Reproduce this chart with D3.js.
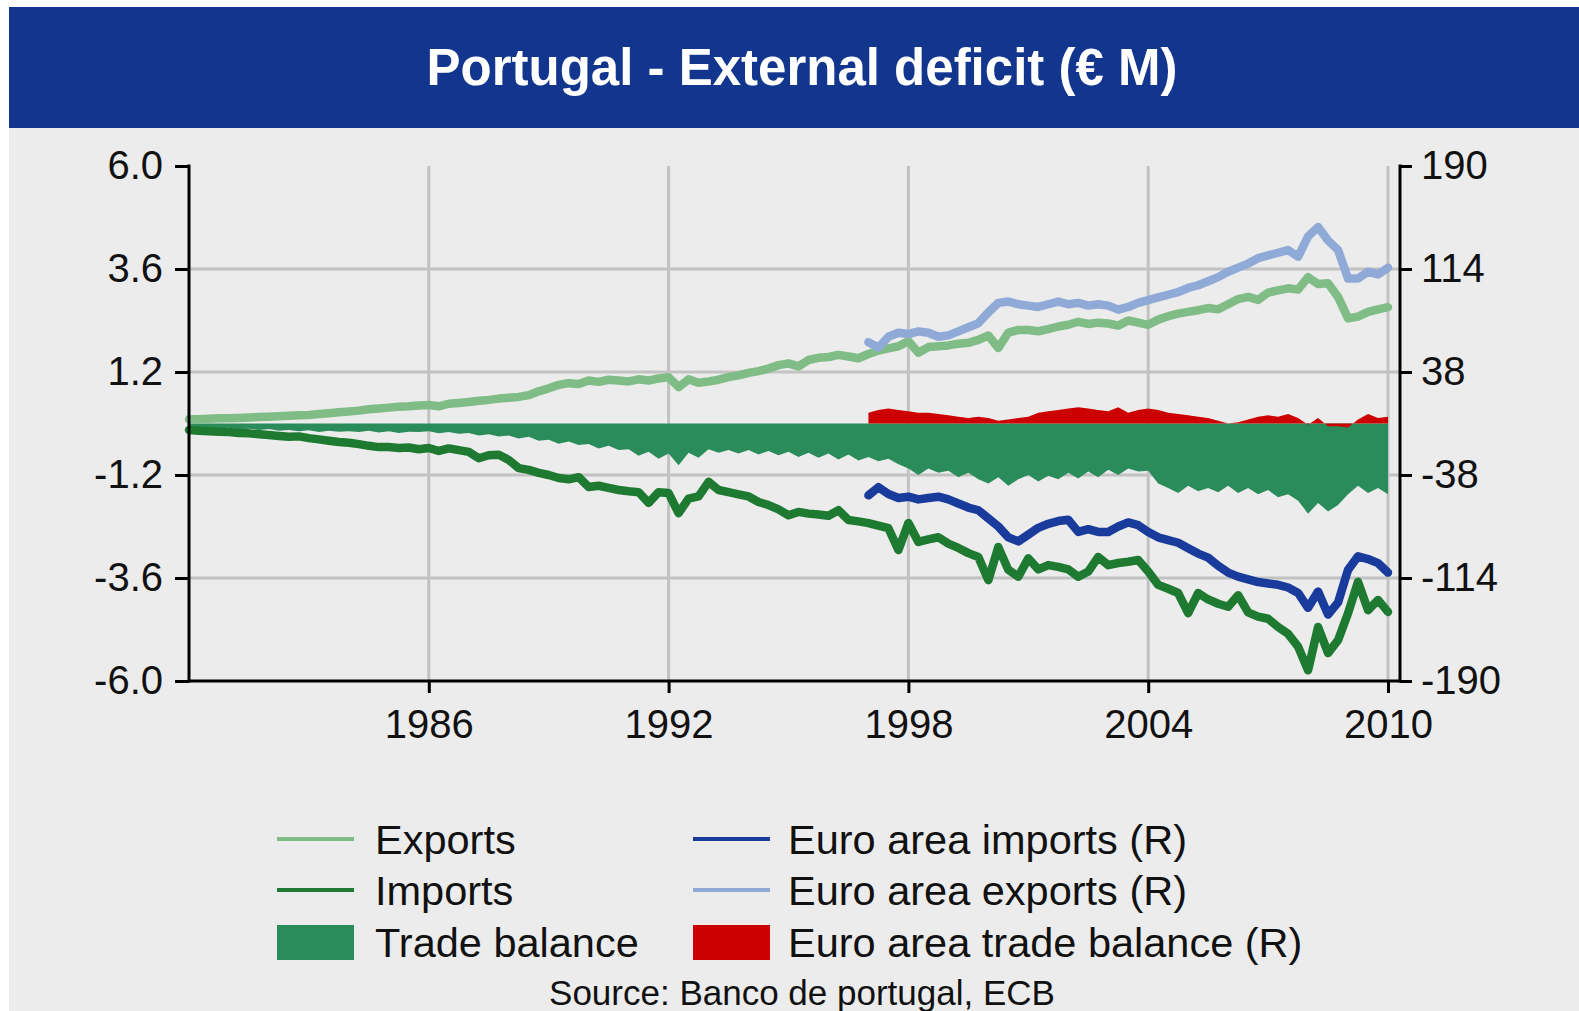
<!DOCTYPE html>
<html>
<head>
<meta charset="utf-8">
<script src="https://cdn.jsdelivr.net/npm/d3@7"></script>
<style>
  html, body { margin: 0; padding: 0; background: #fff; }
  svg { display: block; font-family: "Liberation Sans", Arial, sans-serif; }
</style>
</head>
<body>
<script>
// Portugal, quarterly from 1980 Q1 (left axis, € bn)
let ptStart = 1980
let exportsPT = [
  0.10, 0.10, 0.11, 0.12,  0.12, 0.13, 0.14, 0.15,  0.16, 0.17, 0.18, 0.19,
  0.20, 0.22, 0.24, 0.26,  0.28, 0.30, 0.33, 0.35,  0.37, 0.39, 0.40, 0.42,
  0.43, 0.40, 0.46, 0.48,  0.50, 0.53, 0.55, 0.58,  0.60, 0.62, 0.66, 0.75,
  0.82, 0.90, 0.94, 0.92,  1.00, 0.97, 1.02, 1.00,  0.98, 1.03, 1.00, 1.05,
  1.08, 0.85, 1.03, 0.95,  0.98, 1.02, 1.08, 1.12,  1.18, 1.22, 1.28, 1.36,
  1.40, 1.33, 1.48, 1.53,  1.55, 1.60, 1.56, 1.52,  1.62, 1.70, 1.75, 1.80,
  1.92, 1.65, 1.78, 1.80,  1.82, 1.86, 1.88, 1.95,  2.05, 1.76, 2.12, 2.18,
  2.18, 2.15, 2.20, 2.26,  2.30, 2.37, 2.32, 2.35,  2.33, 2.28, 2.40, 2.35,
  2.30, 2.42, 2.50, 2.56,  2.60, 2.64, 2.69, 2.66,  2.78, 2.90, 2.95, 2.88,
  3.05, 3.10, 3.15, 3.12,  3.41, 3.25, 3.27, 2.95,  2.45, 2.49, 2.60, 2.66, 2.71
]
let importsPT = [
  -0.15, -0.17, -0.18, -0.19,  -0.20, -0.22, -0.23, -0.25,  -0.27, -0.29, -0.31, -0.30,
  -0.34, -0.37, -0.40, -0.43,  -0.45, -0.48, -0.52, -0.55,  -0.55, -0.57, -0.56, -0.60,
  -0.57, -0.64, -0.58, -0.62,  -0.66, -0.81, -0.74, -0.73,  -0.85, -1.04, -1.08, -1.15,
  -1.20, -1.27, -1.30, -1.25,  -1.48, -1.45, -1.50, -1.55,  -1.58, -1.60, -1.85, -1.60,
  -1.62, -2.09, -1.75, -1.70,  -1.36, -1.55, -1.60, -1.65,  -1.70, -1.83, -1.90, -2.00,
  -2.14, -2.06, -2.10, -2.12,  -2.15, -2.02, -2.25, -2.28,  -2.32, -2.38, -2.44, -2.95,
  -2.32, -2.76, -2.70, -2.65,  -2.80, -2.90, -3.02, -3.11,  -3.65, -2.88, -3.41, -3.57,
  -3.14, -3.40, -3.30, -3.34,  -3.40, -3.57, -3.45, -3.11,  -3.30, -3.25, -3.22, -3.18,
  -3.45, -3.76, -3.85, -3.95,  -4.42, -3.95, -4.10, -4.20,  -4.27, -4.00, -4.40, -4.50,
  -4.55, -4.74, -4.90, -5.20,  -5.75, -4.74, -5.35, -5.05,  -4.42, -3.69, -4.35, -4.11, -4.39
]
let balancePT = [
  -0.05, -0.10, -0.08, -0.12,  -0.10, -0.14, -0.12, -0.15,  -0.13, -0.17, -0.15, -0.18,
  -0.16, -0.20, -0.17, -0.19,  -0.18, -0.20, -0.17, -0.21,  -0.18, -0.22, -0.19, -0.20,
  -0.18, -0.23, -0.20, -0.24,  -0.22, -0.28, -0.25, -0.30,  -0.28, -0.35, -0.31, -0.40,
  -0.38, -0.47, -0.42, -0.50,  -0.48, -0.58, -0.52, -0.62,  -0.60, -0.75, -0.66, -0.82,
  -0.70, -0.97, -0.68, -0.80,  -0.60, -0.68, -0.62, -0.70,  -0.62, -0.72, -0.64, -0.74,
  -0.66, -0.78, -0.68, -0.80,  -0.70, -0.84, -0.72, -0.86,  -0.78, -0.88, -0.82, -0.95,
  -1.05, -1.20, -1.05, -1.15,  -1.10, -1.25, -1.15, -1.30,  -1.40, -1.25, -1.45, -1.30,
  -1.20, -1.35, -1.22, -1.30,  -1.15, -1.28, -1.12, -1.25,  -1.08, -1.20, -1.05, -1.12,
  -1.10, -1.40, -1.50, -1.62,  -1.45, -1.58, -1.50, -1.60,  -1.45, -1.62, -1.50, -1.65,
  -1.55, -1.72, -1.65, -1.80,  -2.10, -1.85, -2.05, -1.90,  -1.65, -1.45, -1.62, -1.50, -1.65
]

// Euro area, quarterly from 1997 Q1 (right axis, € bn)
let euStart = 1997
let exportsEU = [
  60, 56, 64, 67,  66, 68, 67, 64,  65, 68, 71, 74,  82, 89, 90, 88,
  87, 86, 88, 90,  88, 89, 87, 88,  87, 84, 86, 89,  91, 93, 95, 97,
  100, 102, 105, 108,  112, 115, 118, 122,  124, 126, 128, 123,
  138, 145, 135, 128,  107, 107, 112, 110, 115
]
let importsEU = [
  -53, -47, -52, -55,  -54, -56, -55, -54,  -56, -59, -62, -64,  -70, -76, -84, -87,
  -82, -77, -74, -72,  -71, -80, -78, -80,  -80, -76, -73, -75,  -80, -84, -86, -88,
  -92, -96, -99, -105,  -110, -113, -115, -117,  -118, -119, -121, -125,
  -136, -124, -141, -132,  -108, -98, -100, -103, -110
]
let balanceEU = [
  8, 10, 11, 10,  9, 8, 8, 7,  6, 5, 4, 5,  4, 2, 3, 4,
  5, 8, 9, 10,  11, 12, 11, 10,  9, 12, 8, 10,  11, 10, 8, 7,
  6, 5, 4, 2,  0, 1, 3, 5,  6, 5, 7, 4,
  -1, 4, -2, -2,  -3, 3, 7, 4, 5
]

let leftTicks = [-6.0, -3.6, -1.2, 1.2, 3.6, 6.0]
let rightTicks = [-190, -114, -38, 38, 114, 190]
let yearTicks = [1986, 1992, 1998, 2004, 2010]

let legendLeft = [["Exports", "line", "#80bd86"], ["Imports", "line", "#1f7a31"], ["Trade balance", "box", "#2b8c5b"]]
let legendRight = [["Euro area imports (R)", "line", "#193b9b"], ["Euro area exports (R)", "line", "#90aad8"], ["Euro area trade balance (R)", "box", "#cc0000"]]

let width = 1579
let height = 1011

let svg = d3.select("body")
    .append("svg")
    .attr("width", width)
    .attr("height", height)

// backgrounds
svg.append("rect").attr("x", 9).attr("y", 7).attr("width", width - 9).attr("height", height - 7).attr("fill", "#ececec")
svg.append("rect").attr("x", 9).attr("y", 7).attr("width", width - 9).attr("height", 121).attr("fill", "#12358e")

svg.append("text")
    .attr("x", 802).attr("y", 85)
    .attr("text-anchor", "middle")
    .attr("fill", "#fff")
    .attr("font-weight", "bold")
    .attr("font-size", 51)
    .text("Portugal - External deficit (€ M)")

let plot = {left: 189, right: 1400, top: 166, bottom: 681}

let x = d3.scaleLinear().domain([1980, 2010.3]).range([plot.left, plot.right])
let yL = d3.scaleLinear().domain([-6, 6]).range([plot.bottom, plot.top])
let yR = d3.scaleLinear().domain([-190, 190]).range([plot.bottom, plot.top])

let ptYears = exportsPT.map((d, i) => ptStart + i / 4)
let euYears = exportsEU.map((d, i) => euStart + i / 4)

// grid
let grid = svg.append("g").attr("stroke", "#c2c2c2").attr("stroke-width", 3)
grid.selectAll(".hg")
    .data(leftTicks.filter(d => d > -6 && d < 6))
    .enter().append("line")
    .attr("x1", plot.left).attr("x2", plot.right)
    .attr("y1", d => yL(d)).attr("y2", d => yL(d))
grid.selectAll(".vg")
    .data(yearTicks)
    .enter().append("line")
    .attr("x1", d => x(d)).attr("x2", d => x(d))
    .attr("y1", plot.top).attr("y2", plot.bottom)

// areas
let areaPT = d3.area()
    .x((d, i) => x(ptYears[i]))
    .y0(yL(0))
    .y1(d => yL(d))
svg.append("path").datum(balancePT).attr("d", areaPT).attr("fill", "#2b8c5b")

let areaEU = d3.area()
    .x((d, i) => x(euYears[i]))
    .y0(yR(0))
    .y1(d => yR(d))
svg.append("path").datum(balanceEU).attr("d", areaEU).attr("fill", "#cc0000")

// lines
function drawLine(data, years, scale, color) {
    let line = d3.line()
        .x((d, i) => x(years[i]))
        .y(d => scale(d))
    svg.append("path").datum(data)
        .attr("d", line)
        .attr("fill", "none")
        .attr("stroke", color)
        .attr("stroke-width", 8.5)
        .attr("stroke-linejoin", "round")
        .attr("stroke-linecap", "round")
}
drawLine(exportsPT, ptYears, yL, "#80bd86")
drawLine(importsPT, ptYears, yL, "#1f7a31")
drawLine(exportsEU, euYears, yR, "#90aad8")
drawLine(importsEU, euYears, yR, "#193b9b")

// axes
let axisLeft = d3.axisLeft(yL).tickValues(leftTicks).tickFormat(d => d.toFixed(1)).tickSize(14).tickPadding(12)
let axisRight = d3.axisRight(yR).tickValues(rightTicks).tickFormat(d => d).tickSize(12).tickPadding(9)
let axisBottom = d3.axisBottom(x).tickValues(yearTicks).tickFormat(d => d).tickSize(12).tickPadding(17)

function styleAxis(g) {
    g.select(".domain").remove()
    g.selectAll(".tick line").attr("stroke", "#000").attr("stroke-width", 3)
    g.selectAll(".tick text").attr("fill", "#111").attr("font-size", 40).attr("font-family", "Liberation Sans, Arial, sans-serif")
}

svg.append("g").attr("transform", "translate(" + plot.left + ",0)").call(axisLeft).call(styleAxis)
svg.append("g").attr("transform", "translate(" + plot.right + ",0)").call(axisRight).call(styleAxis)
svg.append("g").attr("transform", "translate(0," + plot.bottom + ")").call(axisBottom).call(styleAxis)

let frame = svg.append("g").attr("stroke", "#000").attr("stroke-width", 3)
frame.append("line").attr("x1", plot.left).attr("x2", plot.left).attr("y1", plot.top - 1.5).attr("y2", plot.bottom + 1.5)
frame.append("line").attr("x1", plot.right).attr("x2", plot.right).attr("y1", plot.top - 1.5).attr("y2", plot.bottom + 1.5)
frame.append("line").attr("x1", plot.left).attr("x2", plot.right).attr("y1", plot.bottom).attr("y2", plot.bottom)

// legend
function drawLegend(items, sx, tx) {
    let rows = [839, 890, 942]
    items.forEach(function(it, i) {
        if (it[1] == "line") {
            svg.append("line")
                .attr("x1", sx).attr("x2", sx + 77)
                .attr("y1", rows[i]).attr("y2", rows[i])
                .attr("stroke", it[2]).attr("stroke-width", 4)
        } else {
            svg.append("rect")
                .attr("x", sx).attr("y", rows[i] - 17)
                .attr("width", 77).attr("height", 35)
                .attr("fill", it[2])
        }
        svg.append("text")
            .attr("x", tx).attr("y", rows[i])
            .attr("dy", "0.36em")
            .attr("font-size", 41.5)
            .attr("fill", "#111")
            .text(it[0])
    })
}
drawLegend(legendLeft, 277, 375)
drawLegend(legendRight, 693, 788)

svg.append("text")
    .attr("x", 802).attr("y", 1005)
    .attr("text-anchor", "middle")
    .attr("font-size", 35)
    .attr("fill", "#111")
    .text("Source: Banco de portugal, ECB")
</script>
</body>
</html>
